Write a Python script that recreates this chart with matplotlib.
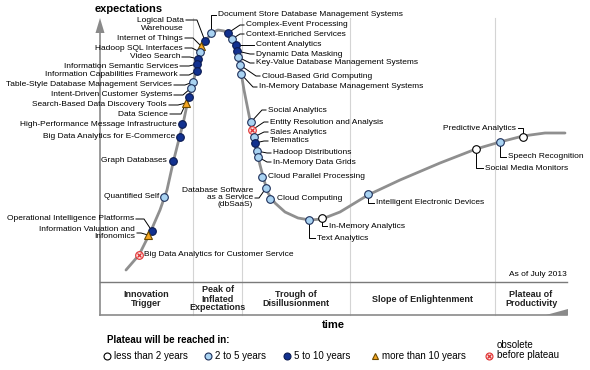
import matplotlib.pyplot as plt
from matplotlib.patches import Polygon

plt.rcParams['font.family'] = ['Liberation Sans', 'DejaVu Sans']

# hype curve (x = time, y = expectations, in picture pixels, y down)
curve_x = [126, 139, 150, 160, 167, 173, 178, 183, 187, 191, 195, 198, 202, 206, 212, 218,
           224, 229, 234, 237, 239, 241, 244, 248, 252, 256, 260, 264, 268, 275, 285, 298,
           310, 322, 340, 368, 400, 440, 476, 500, 523, 545, 565]
curve_y = [270, 255, 233, 210, 190, 163, 143, 124, 105, 90, 75, 62, 48, 40, 33, 30,
           31, 35, 42, 50, 60, 72, 90, 110, 130, 148, 165, 180, 193, 203, 212, 218,
           220, 219, 212, 195, 180, 163, 149, 142, 136, 133, 133]

# status: 0 <2 yrs, 1 2-5 yrs, 2 5-10 yrs, 3 >10 yrs, 4 obsolete
tech_names = [
    'Logical Data\nWarehouse', 'Internet of Things', 'Hadoop SQL Interfaces', 'Video Search',
    'Information Semantic Services', 'Information Capabilities Framework',
    'Table-Style Database Management Services', 'Intent-Driven Customer Systems',
    'Search-Based Data Discovery Tools', 'Data Science', 'High-Performance Message Infrastructure',
    'Big Data Analytics for E-Commerce', 'Graph Databases', 'Quantified Self',
    'Operational Intelligence Platforms', 'Information Valuation and\nInfonomics',
    'Big Data Analytics for Customer Service',
    'Document Store Database Management Systems', 'Complex-Event Processing',
    'Context-Enriched Services', 'Content Analytics', 'Dynamic Data Masking',
    'Key-Value Database Management Systems', 'Cloud-Based Grid Computing',
    'In-Memory Database Management Systems',
    'Social Analytics', 'Entity Resolution and Analysis', 'Sales Analytics', 'Telematics',
    'Hadoop Distributions', 'In-Memory Data Grids', 'Cloud Parallel Processing',
    'Database Software\nas a Service\n(dbSaaS)', 'Cloud Computing', 'Text Analytics',
    'In-Memory Analytics', 'Intelligent Electronic Devices', 'Social Media Monitors',
    'Speech Recognition', 'Predictive Analytics',
]
tech_x = [205, 201, 200, 198, 197, 197, 193, 191, 186, 189, 182, 180, 173, 164, 152, 148, 139,
          211, 228, 232, 236, 237, 238, 240, 241,
          251, 252, 254, 255, 257, 258, 262, 266, 270, 309, 322, 368, 476, 500, 523]
tech_y = [41, 46, 52, 59, 64, 71, 82, 88, 103, 97, 124, 137, 161, 197, 231, 235, 255,
          33, 33, 39, 45, 51, 57, 65, 74,
          122, 130, 137, 143, 151, 157, 177, 188, 199, 220, 218, 194, 149, 142, 137]
tech_status = [2, 3, 1, 2, 2, 2, 1, 1, 3, 2, 2, 2, 2, 1, 2, 3, 4,
               1, 2, 1, 2, 2, 1, 1, 1,
               1, 4, 1, 2, 1, 1, 1, 1, 1, 1, 0, 1, 0, 1, 0]

# label placement: (text x, text y, kind, leader y)
# L: text left of marker, R: text right with slanted leader, E: elbow (vertical then right),
# P: elbow to the left, N: no leader
label_layout = [
    (184, 24.5, 'L', 20), (183, 38, 'L', 38), (183, 48, 'L', 48), (180, 57, 'L', 57),
    (178, 66, 'L', 66), (178, 75, 'L', 75), (172, 85, 'L', 85), (172, 95, 'L', 95),
    (167, 105, 'L', 105), (168, 114, 'L', 114), (177, 124, 'N', 124), (175, 137, 'N', 137),
    (167, 161, 'N', 161), (159, 197, 'N', 197), (134, 219, 'L', 219), (135, 233, 'L', 233),
    (144, 255, 'N', 255),
    (218, 15, 'E', 15), (246, 25, 'R', 25), (246, 34, 'R', 34), (256, 45, 'R', 45),
    (256, 54, 'R', 54), (256, 63, 'R', 63), (262, 76, 'R', 76), (259, 87, 'R', 87),
    (268, 110, 'R', 110), (270, 122, 'R', 122), (270, 132, 'R', 132), (270, 141, 'R', 141),
    (273, 153, 'R', 153), (273, 162, 'R', 162), (268, 177, 'N', 177), (253, 197.5, 'L', 198),
    (277, 199, 'N', 199), (317, 238, 'E', 238), (329, 226, 'E', 226), (376, 203, 'E', 203),
    (485, 168, 'E', 168), (508, 157, 'E', 157), (516, 128, 'P', 128),
]

phase_names = ['Innovation\nTrigger', 'Peak of\nInflated\nExpectations', 'Trough of\nDisillusionment',
               'Slope of Enlightenment', 'Plateau of\nProductivity']
phase_edges = [100, 193, 242, 350, 495, 567]

legend_labels = ['less than 2 years', '2 to 5 years', '5 to 10 years', 'more than 10 years',
                 'obsolete\nbefore plateau']

face = ['white', '#a9d3f2', '#12318f', '#f5a623', '#fbe3e3']
edge = ['black', '#1d2f5a', '#0a1a50', '#6b4a00', '#e03030']
shape = ['o', 'o', 'o', '^', 'o']


def draw_marker(ax, x, y, s, size=5.5):
    ax.plot(x, y, marker=shape[s], ms=size, mfc=face[s], mec=edge[s], mew=0.8, zorder=5, ls='none')
    if s == 4:
        ax.plot(x, y, marker='x', ms=size * 0.55, mec=edge[s], mew=0.9, zorder=6, ls='none')


fig = plt.figure(figsize=(5.9, 3.7), dpi=100)
ax = fig.add_axes([0, 0, 1, 1])
ax.set_xlim(0, 590)
ax.set_ylim(370, 0)
ax.axis('off')

fs = 6.0

# phase separators
for xe in phase_edges[1:-1]:
    ax.plot([xe, xe], [18, 315], color='#d4d4d4', lw=0.8, zorder=1)

# expectations axis
ax.plot([100, 100], [30, 315], color='#8a8a8a', lw=1.2, zorder=2)
ax.add_patch(Polygon([[95.5, 33], [104.5, 33], [100, 18]], closed=True, fc='#8a8a8a', ec='none'))
ax.text(129, 9, 'expectations', fontsize=8, fontweight='bold', ha='center', va='center')

# phase box
ax.plot([100, 567], [282, 282], color='#7a7a7a', lw=1.0)
ax.plot([100, 567], [315, 315], color='#8a8a8a', lw=1.2)
ax.add_patch(Polygon([[546, 315], [568, 315], [568, 309]], closed=True, fc='#8a8a8a', ec='none'))
for i, name in enumerate(phase_names):
    xc = (phase_edges[i] + phase_edges[i + 1]) / 2
    if i == 1:
        xc = 218
    ax.text(xc, 299, name, fontsize=6.5, fontweight='bold', ha='center', va='center',
            linespacing=1.0, color='#222222')
ax.text(333, 325, 'time', fontsize=8, fontweight='bold', ha='center', va='center')
ax.text(567, 274, 'As of July 2013', fontsize=fs, ha='right', va='center')

# the curve
ax.plot(curve_x, curve_y, color='#8f8f8f', lw=2.0, solid_capstyle='round', zorder=3)

# technologies
for name, x, y, s, (lx, ly, kind, lead) in zip(tech_names, tech_x, tech_y, tech_status, label_layout):
    if kind == 'L':
        ex = max(lx + 6, x - 8)
        ax.plot([lx + 2, ex, x], [lead, lead, y], color='black', lw=0.7, zorder=4)
        ax.text(lx, ly, name, fontsize=fs, ha='right', va='center', linespacing=1.05,
                multialignment='right')
    elif kind == 'N':
        if lx < x:
            ax.text(lx, ly, name, fontsize=fs, ha='right', va='center')
        else:
            ax.text(lx, ly, name, fontsize=fs, ha='left', va='center')
    elif kind == 'R':
        ax.plot([x, lx - 6, lx - 2], [y, lead, lead], color='black', lw=0.7, zorder=4)
        ax.text(lx, ly, name, fontsize=fs, ha='left', va='center')
    elif kind == 'E':
        ax.plot([x, x, lx - 2], [y, lead, lead], color='black', lw=0.7, zorder=4)
        ax.text(lx, ly, name, fontsize=fs, ha='left', va='center')
    elif kind == 'P':
        ax.plot([lx + 2, x, x], [lead, lead, y], color='black', lw=0.7, zorder=4)
        ax.text(lx, ly, name, fontsize=fs, ha='right', va='center')
    draw_marker(ax, x, y, s)

# legend
ax.text(107, 340, 'Plateau will be reached in:', fontsize=7, fontweight='bold', ha='left', va='center')
leg_x = [107, 208, 287, 375, 489]
for i, (lbl, lxp) in enumerate(zip(legend_labels, leg_x)):
    draw_marker(ax, lxp, 356, i, size=5)
    if i == 4:
        ax.text(lxp + 8, 350.5, lbl, fontsize=7, ha='left', va='center', linespacing=1.0)
    else:
        ax.text(lxp + 7, 356, lbl, fontsize=7, ha='left', va='center')

fig.savefig('out.png', dpi=100)
